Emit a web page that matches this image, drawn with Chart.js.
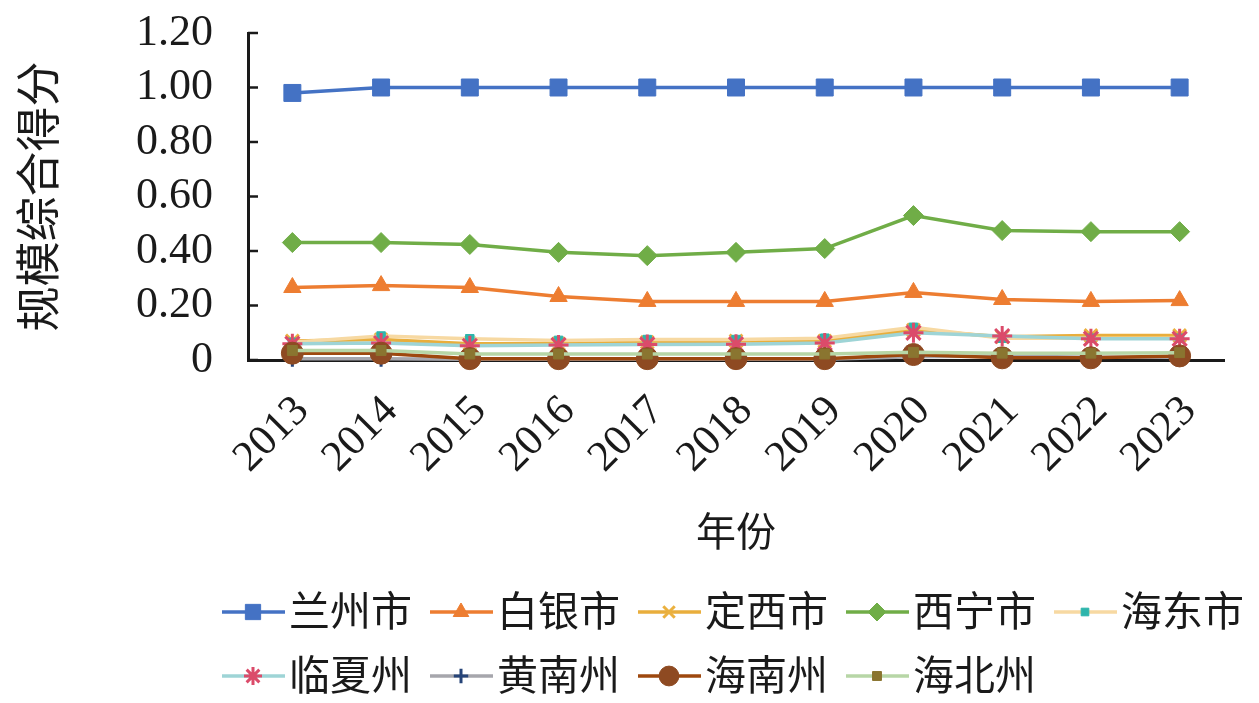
<!DOCTYPE html>
<html>
<head>
<meta charset="utf-8">
<script src="https://cdn.jsdelivr.net/npm/chart.js@4/dist/chart.umd.min.js"></script>
<style>
  html, body { margin: 0; padding: 0; background: #fff; }
  #wrap { width: 1259px; height: 703px; }
</style>
</head>
<body>
<div id="wrap"><canvas id="myChart"></canvas></div>
<script>
// 数据
const years = ['2013', '2014', '2015', '2016', '2017', '2018', '2019', '2020', '2021', '2022', '2023'];
const yTicks = [0, 0.2, 0.4, 0.6, 0.8, 1.0, 1.2];

const lanzhou  = [0.98, 1.00, 1.00, 1.00, 1.00, 1.00, 1.00, 1.00, 1.00, 1.00, 1.00];
const baiyin   = [0.266, 0.273, 0.266, 0.233, 0.215, 0.215, 0.215, 0.248, 0.222, 0.215, 0.218];
const dingxi   = [0.070, 0.075, 0.060, 0.060, 0.065, 0.070, 0.070, 0.110, 0.085, 0.090, 0.090];
const xining   = [0.431, 0.431, 0.424, 0.395, 0.383, 0.395, 0.409, 0.530, 0.475, 0.471, 0.471];
const haidong  = [0.065, 0.088, 0.078, 0.072, 0.075, 0.075, 0.080, 0.120, 0.080, 0.080, 0.080];
const linxia   = [0.060, 0.062, 0.052, 0.055, 0.057, 0.058, 0.062, 0.100, 0.088, 0.078, 0.078];
const huangnan = [0.005, 0.005, 0.003, 0.003, 0.003, 0.003, 0.003, 0.012, 0.015, 0.010, 0.010];
const hainan   = [0.025, 0.025, 0.005, 0.005, 0.005, 0.005, 0.005, 0.020, 0.008, 0.008, 0.015];
const haibei   = [0.035, 0.035, 0.022, 0.022, 0.022, 0.022, 0.022, 0.028, 0.025, 0.025, 0.027];

function series(label, data, line, marker, style, radius, extra) {
    return Object.assign({
        label: label,
        data: data,
        borderColor: line,
        backgroundColor: line,
        borderWidth: 3.5,
        pointStyle: style,
        pointRadius: radius,
        pointHoverRadius: radius,
        pointBackgroundColor: marker,
        pointBorderColor: marker,
        pointBorderWidth: 1,
        tension: 0,
        fill: false,
        clip: false,
    }, extra || {});
}

const datasets = [
    series('兰州市', lanzhou, '#4472C4', '#4472C4', 'rect', 12),
    series('白银市', baiyin, '#ED7D31', '#ED7D31', 'triangle', 10),
    series('定西市', dingxi, '#E9AE3C', '#EBB13F', 'crossRot', 9, { pointBorderWidth: 3 }),
    series('西宁市', xining, '#70AD47', '#70AD47', 'rectRot', 10),
    series('海东市', haidong, '#F7D9A2', '#2DB5AC', 'rect', 6),
    series('临夏州', linxia, '#9ED4D6', '#DB4B6A', 'star', 10, { pointBorderWidth: 3 }),
    series('黄南州', huangnan, '#A6A6AC', '#264478', 'cross', 8, { pointBorderWidth: 3 }),
    series('海南州', hainan, '#9E480E', '#8E4A22', 'circle', 11),
    series('海北州', haibei, '#B7D6A6', '#8A7530', 'rect', 7),
];
// 后面的系列画在上面
datasets.forEach((d, i) => { d.order = datasets.length - i; });

// 朝内的刻度线
const innerTicks = {
    id: 'innerTicks',
    afterDraw(chart) {
        const ctx = chart.ctx;
        const y = chart.scales.y;
        ctx.save();
        ctx.strokeStyle = '#1a1a1a';
        ctx.lineWidth = 2.5;
        yTicks.forEach(v => {
            const py = y.getPixelForValue(v);
            ctx.beginPath();
            ctx.moveTo(y.right, py);
            ctx.lineTo(y.right + 10, py);
            ctx.stroke();
        });
        ctx.restore();
    }
};

// 线加标记的图例
const lineLegend = {
    id: 'lineLegend',
    afterDraw(chart) {
        const ctx = chart.ctx;
        ctx.save();
        ctx.font = '41px "Noto Sans CJK SC"';
        ctx.textBaseline = 'middle';
        ctx.textAlign = 'left';
        chart.data.datasets.forEach((d, i) => {
            const col = i % 5;
            const row = Math.floor(i / 5);
            const x = 222 + col * 208;
            const y = 612 + row * 64;
            ctx.strokeStyle = d.borderColor;
            ctx.lineWidth = 3.5;
            ctx.beginPath();
            ctx.moveTo(x, y);
            ctx.lineTo(x + 63, y);
            ctx.stroke();
            ctx.fillStyle = d.pointBackgroundColor;
            ctx.strokeStyle = d.pointBorderColor;
            ctx.lineWidth = d.pointBorderWidth;
            Chart.helpers.drawPoint(ctx, {
                pointStyle: d.pointStyle,
                radius: d.pointRadius * 0.9,
                rotation: 0,
                borderWidth: d.pointBorderWidth
            }, x + 31, y);
            ctx.fillStyle = '#1a1a1a';
            ctx.fillText(d.label, x + 67, y - 2);
        });
        ctx.restore();
    }
};

Chart.defaults.font.family = '"Liberation Serif", serif';
Chart.defaults.color = '#1a1a1a';

new Chart(document.getElementById('myChart'), {
    type: 'line',
    data: {
        labels: years,
        datasets: datasets
    },
    options: {
        responsive: true,
        maintainAspectRatio: false,
        animation: false,
        layout: {
            padding: { top: 33, right: 35, bottom: 148, left: 0 }
        },
        plugins: {
            legend: { display: false },
            tooltip: { enabled: false }
        },
        scales: {
            x: {
                offset: true,
                grid: { display: false },
                border: { display: true, color: '#1a1a1a', width: 3 },
                ticks: {
                    autoSkip: false,
                    minRotation: 45,
                    maxRotation: 45,
                    padding: 18,
                    labelOffset: 10,
                    font: { size: 43 }
                },
                title: {
                    display: true,
                    text: '年份',
                    font: { family: '"Noto Sans CJK SC"', size: 40 },
                    padding: { top: 0, bottom: 0 }
                },
                afterFit(scale) {
                    scale.height = 195;
                    scale.paddingLeft = 0;
                    scale.paddingRight = 0;
                }
            },
            y: {
                min: 0,
                max: 1.2,
                grid: { display: false },
                border: { display: true, color: '#1a1a1a', width: 3 },
                afterBuildTicks(scale) {
                    scale.ticks = yTicks.map(v => ({ value: v }));
                },
                ticks: {
                    autoSkip: false,
                    padding: 27,
                    font: { size: 44 },
                    callback: v => v === 0 ? '0' : Number(v).toFixed(2)
                },
                title: {
                    display: true,
                    text: '规模综合得分',
                    font: { family: '"Noto Sans CJK SC"', size: 45 },
                    padding: { top: 11, bottom: 0 }
                },
                afterFit(scale) {
                    scale.width = 248;
                    scale.paddingTop = 0;
                    scale.paddingBottom = 0;
                }
            }
        }
    },
    plugins: [innerTicks, lineLegend]
});
</script>
</body>
</html>
